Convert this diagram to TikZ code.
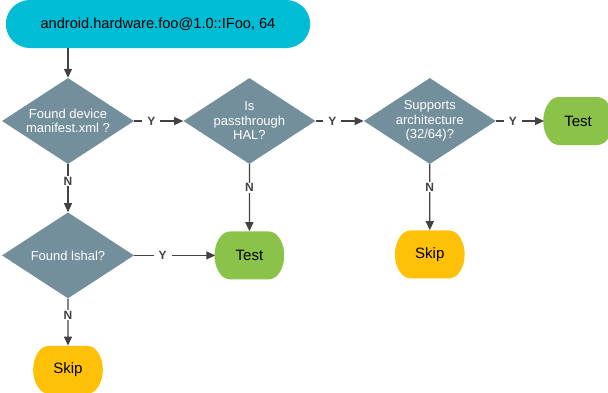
\documentclass[tikz,border=0pt]{standalone}
\usepackage{fontspec}
\setmainfont{Liberation Sans}
\usepackage{tikz}
\usetikzlibrary{shapes.geometric, shapes.misc, arrows.meta, positioning}

\definecolor{startcyan}{HTML}{00BCD4}
\definecolor{decgrey}{HTML}{738F9C}
\definecolor{testgreen}{HTML}{8BC34A}
\definecolor{skipamber}{HTML}{FFC107}
\definecolor{linegrey}{HTML}{424242}

\begin{document}
\begin{tikzpicture}[
    x=1pt, y=1pt,
    every node/.style={font=\fontsize{13}{14.5}\selectfont},
    start/.style={rounded rectangle, fill=startcyan, text=black,
        minimum width=311pt, minimum height=48pt, font=\fontsize{14.6}{16}\selectfont},
    decision/.style={diamond, fill=decgrey, text=white, inner sep=-3pt, aspect=1.53,
        minimum width=132pt, minimum height=86pt, align=center},
    result/.style={rounded rectangle, rounded rectangle arc length=90, rounded corners=5pt,
        minimum width=66pt, minimum height=48pt, inner sep=0pt, font=\fontsize{15}{16}\selectfont},
    test/.style={result, fill=testgreen},
    skipbox/.style={result, fill=skipamber},
    flow/.style={-{Triangle[length=9pt, width=8pt]}, draw=linegrey, line width=1.3pt},
    answer/.style={fill=white, text=linegrey, inner xsep=5pt, inner ysep=1pt,
        font=\fontsize{12}{13}\selectfont\bfseries}
]
\useasboundingbox (0,0) rectangle (608,-392);

% Interfaccia
\node[start] (iface) at (158,-24) {android.hardware.foo@1.0::IFoo, 64};

% Prima riga di decisioni
\node[decision] (manifest) at (68,-121) {Found device\\manifest.xml ?};
\node[decision, right=49pt of manifest] (passthru) {Is\\passthrough\\HAL?};
\node[decision, right=48pt of passthru] (arch) {Supports\\architecture\\(32/64)?};
\node[test, right=48pt of arch] (testa) {Test};

% Seconda riga
\node[decision, below=48pt of manifest] (lshal) {Found lshal?};
\node[test, below=67pt of passthru] (testb) {Test};
\node[skipbox, below=66pt of arch] (skipb) {Skip};
\node[skipbox, below=47pt of lshal] (skipa) {Skip};

% Frecce
\draw[flow] (manifest |- iface.south) -- (manifest);
\draw[flow] (manifest) -- (passthru) node[answer, pos=0.35] {Y};
\draw[flow] (passthru) -- (arch) node[answer, pos=0.35] {Y};
\draw[flow] (arch) -- (testa) node[answer, pos=0.35] {Y};

\draw[flow] (manifest) -- (lshal) node[answer, pos=0.35] {N};
\draw[flow] (passthru) -- (testb) node[answer, pos=0.35] {N};
\draw[flow] (arch) -- (skipb) node[answer, pos=0.35] {N};

\draw[flow] (lshal) -- (testb) node[answer, pos=0.35] {Y};
\draw[flow] (lshal) -- (skipa) node[answer, pos=0.35] {N};

\end{tikzpicture}
\end{document}
